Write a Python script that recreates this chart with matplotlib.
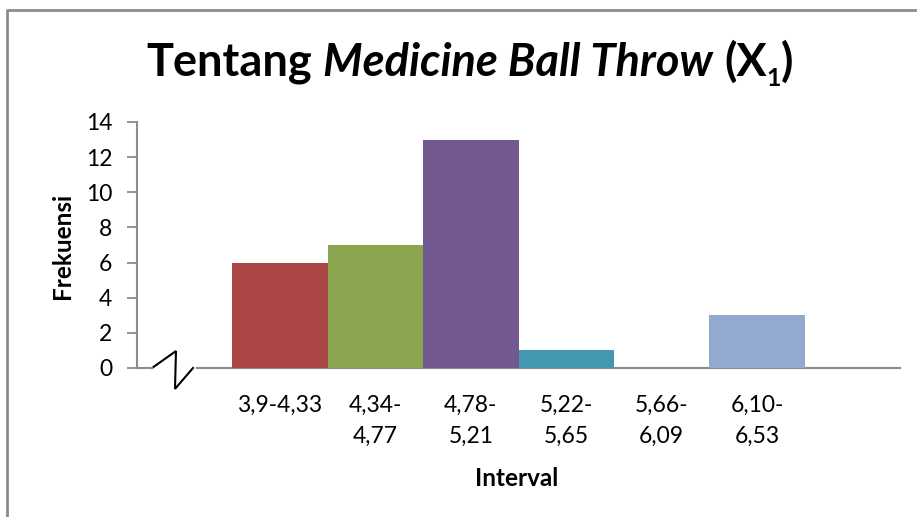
import matplotlib
matplotlib.use("Agg")
import matplotlib.pyplot as plt
from matplotlib.lines import Line2D
from matplotlib.transforms import IdentityTransform
import numpy as np

# Frequency table of the throw distances
intervals = ["3,9-4,33", "4,34-\n4,77", "4,78-\n5,21", "5,22-\n5,65", "5,66-\n6,09", "6,10-\n6,53"]
frekuensi = [6, 7, 13, 1, 0, 3]
bar_colors = ["#AA4643", "#89A54E", "#71588F", "#4198AF", "#DB843D", "#93A9CF"]
y_ticks = [0, 2, 4, 6, 8, 10, 12, 14]

FONT = "Lato"
AXIS_GREY = "#8C8C8C"
TICK_SIZE = 16.5

W, H = 917, 517
fig = plt.figure(figsize=(W / 100, H / 100), dpi=100)
fig.patch.set_facecolor("white")

# Plot area in pixel terms
left, right, top, bottom = 137, 900, 122, 368
ax = fig.add_axes([left / W, 1 - bottom / H, (right - left) / W, (bottom - top) / H])

# Slot 0 is left empty for the axis break, slot 7 is trailing space
x = np.arange(1, len(frekuensi) + 1)
ax.bar(x, frekuensi, width=1.0, color=bar_colors, linewidth=0, zorder=2)

ax.set_xlim(-0.5, 7.5)
ax.set_ylim(0, 14)
ax.set_yticks(y_ticks)
ax.set_xticks(x)
ax.set_xticklabels(intervals, fontfamily=FONT, fontsize=TICK_SIZE, linespacing=1.6)
for lbl in ax.get_yticklabels():
    lbl.set_fontfamily(FONT)
    lbl.set_fontsize(TICK_SIZE)

ax.tick_params(axis="x", length=0, pad=19)
ax.tick_params(axis="y", length=7.2, width=1.3, color=AXIS_GREY, pad=10.5, direction="out")

for side in ("top", "right", "bottom"):
    ax.spines[side].set_visible(False)
ax.spines["left"].set_color(AXIS_GREY)
ax.spines["left"].set_linewidth(1.5)

# Category axis drawn in two pieces with a break mark between them
ax.add_line(Line2D([0, 0.0197], [0, 0], transform=ax.transAxes, color=AXIS_GREY,
                   lw=1.5, clip_on=False, zorder=3))
ax.add_line(Line2D([0.0786, 1.0], [0, 0], transform=ax.transAxes, color=AXIS_GREY,
                   lw=1.5, clip_on=False, zorder=1))
ax.add_line(Line2D([0.0197, 0.0511, 0.0498, 0.0734], [0, 0.069, -0.085, 0],
                   transform=ax.transAxes, color="black", lw=1.5, clip_on=False,
                   solid_joinstyle="miter"))

# Axis titles
fig.text(62 / W, 1 - 246 / H, "Frekuensi", rotation=90, ha="center", va="center",
         fontfamily=FONT, fontweight="bold", fontsize=17.5)
fig.text(517 / W, 1 - 478 / H, "Interval", ha="center", va="center",
         fontfamily=FONT, fontweight="bold", fontsize=17.5)

# Chart frame (left and top edges)
fig.add_artist(Line2D([7 / W, 7 / W, 1.0], [0.0, 1 - 10 / H, 1 - 10 / H],
                      transform=fig.transFigure, color=AXIS_GREY, lw=2))

# Title with mixed upright / italic runs and a subscript
TSIZE = 32.5
SUBSIZE = 18
baseline = H - 76
center_x = 470
renderer = fig.canvas.get_renderer()

pieces = [
    ("Tentang", "normal", TSIZE, 0),
    (" ", "normal", TSIZE, 0),
    ("Medicine Ball Throw", "italic", TSIZE, 0),
    (" ", "normal", TSIZE, 0),
    ("(X", "normal", TSIZE, 0),
    ("1", "normal", SUBSIZE, -10),
    (")", "normal", TSIZE, 0),
]


def run_width(s, style, size):
    t = fig.text(0, 0, s, fontfamily=FONT, fontweight="bold", fontstyle=style,
                 fontsize=size, transform=IdentityTransform())
    w = t.get_window_extent(renderer).width
    t.remove()
    return w


space_w = run_width("n n", "normal", TSIZE) - run_width("nn", "normal", TSIZE)
widths = []
for s, style, size, _ in pieces:
    widths.append(space_w if s == " " else run_width(s, style, size))

cursor = center_x - sum(widths) / 2
for (s, style, size, dy), w in zip(pieces, widths):
    if s != " ":
        fig.text(cursor, baseline + dy, s, fontfamily=FONT, fontweight="bold",
                 fontstyle=style, fontsize=size, ha="left", va="baseline",
                 transform=IdentityTransform())
    cursor += w

fig.savefig("out.png", dpi=100, facecolor="white")
